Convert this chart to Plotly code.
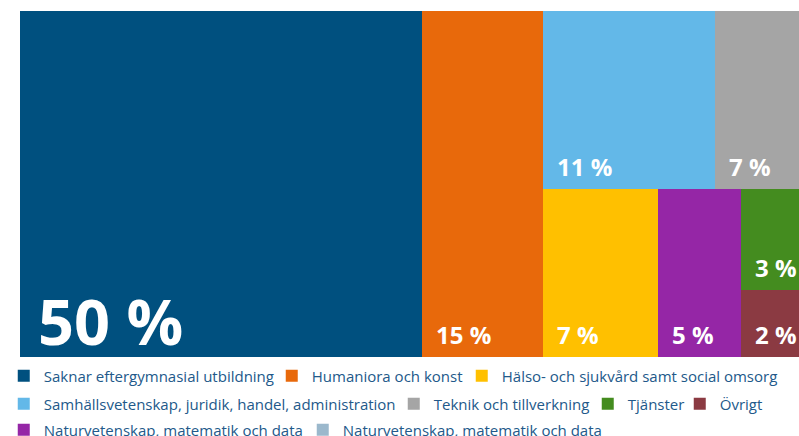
import plotly.graph_objects as go

# ---- data ----
legend_labels = [
    "Saknar eftergymnasial utbildning",
    "Humaniora och konst",
    "Hälso- och sjukvård samt social omsorg",
    "Samhällsvetenskap, juridik, handel, administration",
    "Teknik och tillverkning",
    "Tjänster",
    "Övrigt",
    "Naturvetenskap, matematik och data",
    "Naturvetenskap, matematik och data",
]
shares = [50, 15, 7, 11, 7, 3, 2, 5, None]   # per cent, last entry has no tile
colors = ["#00507f", "#e8690b", "#ffc000", "#63b8e8", "#a5a5a5",
          "#448c1f", "#8b3a42", "#9526a6", "#9bb8cc"]

# slice-and-dice nesting of tiles (indices into the lists above)
tree = [0, 1, [[3, 4], [2, 7, [5, 6]]]]

# ---- layout constants (pixels) ----
FIG_W, FIG_H = 799, 436
M_L, M_T, M_B = 20, 11, 79
PLOT_W = FIG_W - M_L
PLOT_H = FIG_H - M_T - M_B
PX_PER_UNIT = 8.04                 # the reference is cropped on the right
VISIBLE_MAX = PLOT_W / PX_PER_UNIT

# legend entry placement: (square left edge in px, row centre in px)
legend_pos = [(20, 376), (288, 376), (478, 376),
              (20, 404), (410, 404), (604, 404), (696, 404),
              (20, 430), (319, 430)]


def node_value(n):
    if isinstance(n, list):
        return sum(node_value(c) for c in n)
    return shares[n]


def slice_dice(n, x0, y0, x1, y1, depth, out):
    if not isinstance(n, list):
        out[n] = tuple(round(v, 9) for v in (x0, y0, x1, y1))
        return
    total = node_value(n)
    if depth % 2 == 0:       # dice along x
        pos = x0
        for c in n:
            w = (x1 - x0) * node_value(c) / total
            slice_dice(c, pos, y0, pos + w, y1, depth + 1, out)
            pos += w
    else:                    # slice along y, top first
        pos = y1
        for c in n:
            h = (y1 - y0) * node_value(c) / total
            slice_dice(c, x0, pos - h, x1, pos, depth + 1, out)
            pos -= h


rects = {}
slice_dice(tree, 0, 0, 100, 100, 0, rects)

fig = go.Figure()
annotations = []
legends = {}
for i, (name, col) in enumerate(zip(legend_labels, colors)):
    lg = "legend" if i == 0 else f"legend{i + 1}"
    if i in rects:
        x0, y0, x1, y1 = rects[i]
        fig.add_trace(go.Bar(
            x=[(x0 + x1) / 2], width=[x1 - x0], base=[y0], y=[y1 - y0],
            name=name, marker=dict(color=col, line=dict(width=0)),
            hoverinfo="name", showlegend=True, legend=lg,
        ))
        big = shares[i] >= 50
        annotations.append(dict(
            x=x0, y=y0, xref="x", yref="y", xanchor="left", yanchor="bottom",
            text=f"<b>{shares[i]} %</b>", showarrow=False,
            font=dict(family="Open Sans", size=63 if big else 24, color="white"),
            xshift=16 if big else 12, yshift=-8 if big else 4,
        ))
    else:
        fig.add_trace(go.Bar(
            x=[0], y=[0], width=[0], name=name,
            marker=dict(color=col, line=dict(width=0)),
            showlegend=True, legend=lg,
        ))
    sq_left, row_y = legend_pos[i]
    box_left = sq_left + 4.5 - 0.75 - 20
    legends[lg] = dict(
        orientation="h",
        x=(box_left - M_L) / PLOT_W, xanchor="left",
        y=(M_T + PLOT_H - row_y) / PLOT_H, yanchor="middle",
        font=dict(family="Open Sans", size=15, color="#22598a"),
        bgcolor="rgba(0,0,0,0)", borderwidth=0,
        itemclick=False, itemdoubleclick=False,
    )

fig.update_layout(
    width=FIG_W, height=FIG_H,
    margin=dict(l=M_L, r=0, t=M_T, b=M_B, pad=0, autoexpand=False),
    barmode="overlay", bargap=0,
    paper_bgcolor="white", plot_bgcolor="white",
    xaxis=dict(range=[0, VISIBLE_MAX], visible=False, fixedrange=True),
    yaxis=dict(range=[0, 100], visible=False, fixedrange=True),
    annotations=annotations,
    showlegend=True,
    font=dict(family="Open Sans"),
    **legends,
)

fig.write_html(
    "out.html",
    config={"displayModeBar": False},
    post_script="document.body.style.margin='0';document.body.style.overflow='hidden';",
)
